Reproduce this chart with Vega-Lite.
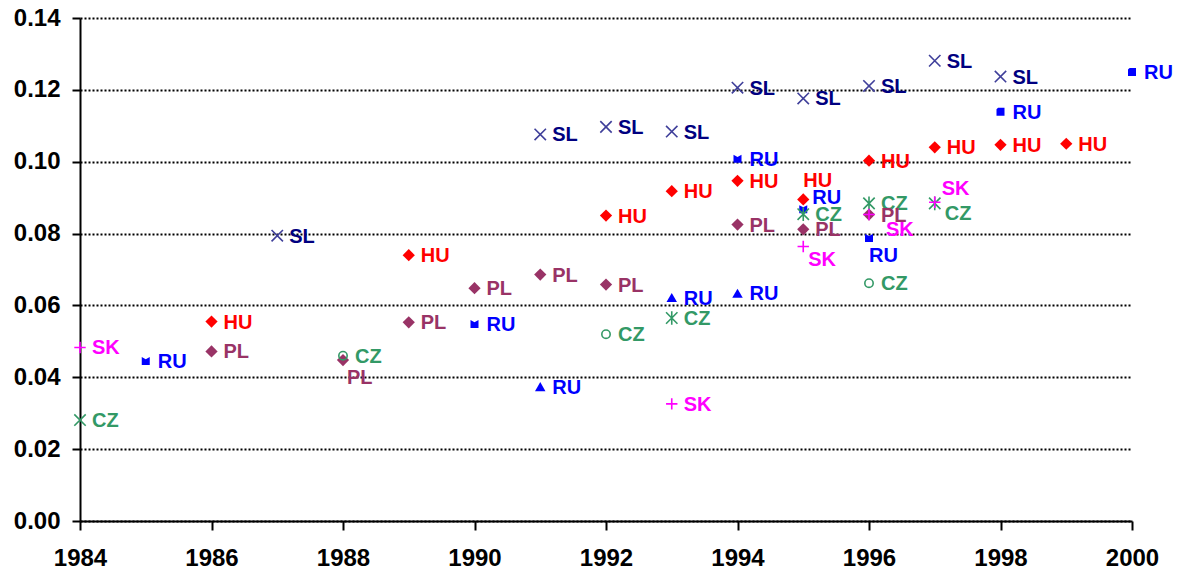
{
  "$schema": "https://vega.github.io/schema/vega-lite/v6.json",
  "width": 1052,
  "height": 503,
  "autosize": "none",
  "padding": {"left": 80, "top": 18, "right": 49, "bottom": 55},
  "background": "white",
  "config": {
    "view": {"stroke": null},
    "font": "Liberation Sans",
    "axis": {"labelFont": "Liberation Sans", "labelFontWeight": "bold", "labelColor": "black", "labelFontSize": 24}
  },
  "data": {
    "values": [
      {"year": 1984, "value": 0.0483, "country": "SK", "marker": "plus"},
      {"year": 1984, "value": 0.0281, "country": "CZ", "marker": "x"},
      {"year": 1985, "value": 0.0445, "country": "RU", "marker": "bowtie"},
      {"year": 1986, "value": 0.0555, "country": "HU", "marker": "diamond"},
      {"year": 1986, "value": 0.0472, "country": "PL", "marker": "diamond"},
      {"year": 1987, "value": 0.0794, "country": "SL", "marker": "x"},
      {"year": 1988, "value": 0.0460, "country": "CZ", "marker": "circle"},
      {"year": 1988, "value": 0.0448, "country": "PL", "marker": "diamond"},
      {"year": 1989, "value": 0.0740, "country": "HU", "marker": "diamond"},
      {"year": 1989, "value": 0.0553, "country": "PL", "marker": "diamond"},
      {"year": 1990, "value": 0.0648, "country": "PL", "marker": "diamond"},
      {"year": 1990, "value": 0.0548, "country": "RU", "marker": "bowtie"},
      {"year": 1991, "value": 0.1076, "country": "SL", "marker": "x"},
      {"year": 1991, "value": 0.0686, "country": "PL", "marker": "diamond"},
      {"year": 1991, "value": 0.0374, "country": "RU", "marker": "triangle"},
      {"year": 1992, "value": 0.1097, "country": "SL", "marker": "x"},
      {"year": 1992, "value": 0.0850, "country": "HU", "marker": "diamond"},
      {"year": 1992, "value": 0.0658, "country": "PL", "marker": "diamond"},
      {"year": 1992, "value": 0.0520, "country": "CZ", "marker": "circle"},
      {"year": 1993, "value": 0.1084, "country": "SL", "marker": "x"},
      {"year": 1993, "value": 0.0918, "country": "HU", "marker": "diamond"},
      {"year": 1993, "value": 0.0622, "country": "RU", "marker": "triangle"},
      {"year": 1993, "value": 0.0565, "country": "CZ", "marker": "asterisk"},
      {"year": 1993, "value": 0.0326, "country": "SK", "marker": "plus"},
      {"year": 1994, "value": 0.1206, "country": "SL", "marker": "x"},
      {"year": 1994, "value": 0.1008, "country": "RU", "marker": "bowtie"},
      {"year": 1994, "value": 0.0947, "country": "HU", "marker": "diamond"},
      {"year": 1994, "value": 0.0825, "country": "PL", "marker": "diamond"},
      {"year": 1994, "value": 0.0634, "country": "RU", "marker": "triangle"},
      {"year": 1995, "value": 0.1176, "country": "SL", "marker": "x"},
      {"year": 1995, "value": 0.0895, "country": "HU", "marker": "diamond"},
      {"year": 1995, "value": 0.0868, "country": "RU", "marker": "bowtie"},
      {"year": 1995, "value": 0.0854, "country": "CZ", "marker": "asterisk"},
      {"year": 1995, "value": 0.0812, "country": "PL", "marker": "diamond"},
      {"year": 1995, "value": 0.0764, "country": "SK", "marker": "plus"},
      {"year": 1996, "value": 0.1211, "country": "SL", "marker": "x"},
      {"year": 1996, "value": 0.1003, "country": "HU", "marker": "diamond"},
      {"year": 1996, "value": 0.0884, "country": "CZ", "marker": "asterisk"},
      {"year": 1996, "value": 0.0853, "country": "PL", "marker": "diamond"},
      {"year": 1996, "value": 0.0853, "country": "SK", "marker": "plus"},
      {"year": 1996, "value": 0.0788, "country": "RU", "marker": "bowtie"},
      {"year": 1996, "value": 0.0662, "country": "CZ", "marker": "circle"},
      {"year": 1997, "value": 0.1281, "country": "SL", "marker": "x"},
      {"year": 1997, "value": 0.1040, "country": "HU", "marker": "diamond"},
      {"year": 1997, "value": 0.0884, "country": "CZ", "marker": "asterisk"},
      {"year": 1997, "value": 0.0887, "country": "SK", "marker": "plus"},
      {"year": 1998, "value": 0.1237, "country": "SL", "marker": "x"},
      {"year": 1998, "value": 0.1139, "country": "RU", "marker": "square"},
      {"year": 1998, "value": 0.1047, "country": "HU", "marker": "diamond"},
      {"year": 1999, "value": 0.1050, "country": "HU", "marker": "diamond"},
      {"year": 2000, "value": 0.1250, "country": "RU", "marker": "square"}
    ]
  },
  "encoding": {
    "x": {
      "field": "year", "type": "quantitative",
      "scale": {"domain": [1984, 2000], "nice": false, "zero": false},
      "axis": {"title": null, "values": [1984,1986,1988,1990,1992,1994,1996,1998,2000], "format": "d", "grid": false, "domainColor": "black", "domainWidth": 2, "tickColor": "black", "tickWidth": 2, "tickSize": 9, "labelPadding": 16, "labelFlush": false}
    },
    "y": {
      "field": "value", "type": "quantitative",
      "scale": {"domain": [0, 0.14], "nice": false},
      "axis": {"title": null, "values": [0,0.02,0.04,0.06,0.08,0.1,0.12,0.14], "format": ".2f", "grid": true, "gridColor": "black", "gridDash": [2,2], "gridWidth": 1.8, "domainColor": "black", "domainWidth": 2, "tickColor": "black", "tickWidth": 2, "tickSize": 8, "labelPadding": 12}
    }
  },
  "resolve": {"scale": {"color": "independent"}},
  "layer": [
    {
      "encoding": {
        "color": {"field": "country", "type": "nominal", "legend": null,
          "scale": {"domain": ["SL","HU","PL","RU","CZ","SK"], "range": ["#3f3f9a","#ff0000","#993366","#0000ff","#339966","#ff00ff"]}},
        "shape": {"field": "marker", "type": "nominal", "legend": null,
          "scale": {"domain": ["diamond","square","bowtie","triangle","x","circle","asterisk","plus"],
            "range": ["diamond","M-1,-0.6L-0.6,-1L1,-1L1,1L-1,1Z","M-1,-1L0,-0.45L1,-1L1,1L-1,1Z","triangle-up","M-1,-1L1,1M-1,1L1,-1","circle","M-1,-1L1,1M-1,1L1,-1M0,-1.2L0,1.2","M-1,0L1,0M0,-1L0,1"]}}
      },
      "layer": [
        {
          "transform": [{"filter": "datum.marker=='diamond'"}],
          "mark": {"type": "point", "filled": true, "strokeWidth": 0, "opacity": 1},
          "encoding": {"size": {"value": 150}}
        },
        {
          "transform": [{"filter": "datum.marker=='triangle'"}],
          "mark": {"type": "point", "filled": true, "strokeWidth": 0, "opacity": 1},
          "encoding": {"size": {"value": 110}}
        },
        {
          "transform": [{"filter": "datum.marker=='square' || datum.marker=='bowtie'"}],
          "mark": {"type": "point", "filled": true, "strokeWidth": 0, "opacity": 1},
          "encoding": {"size": {"value": 64}}
        },
        {
          "transform": [{"filter": "indexof(['x','asterisk','plus'], datum.marker) >= 0"}],
          "mark": {"type": "point", "filled": false, "strokeWidth": 1.6, "opacity": 1},
          "encoding": {"size": {"value": 130}}
        },
        {
          "transform": [{"filter": "datum.marker=='circle'"}],
          "mark": {"type": "point", "filled": false, "strokeWidth": 1.6, "opacity": 1},
          "encoding": {"size": {"value": 70}}
        }
      ]
    },
    {
      "encoding": {
        "text": {"field": "country"},
        "color": {"field": "country", "type": "nominal", "legend": null,
          "scale": {"domain": ["SL","HU","PL","RU","CZ","SK"], "range": ["#000080","#ff0000","#993366","#0000ff","#339966","#ff00ff"]}}
      },
      "layer": [
        {
          "transform": [{"filter": "!((datum.country=='PL' && datum.year==1988) || (datum.year==1995 && indexof(['HU','RU','SK'], datum.country)>=0) || (datum.year==1996 && datum.country=='SK') || (datum.year==1996 && datum.marker=='bowtie') || (datum.year==1997 && (datum.country=='SK' || datum.country=='CZ')))"}],
          "mark": {"type": "text", "align": "left", "baseline": "middle", "dx": 12, "dy": 1, "fontSize": 20, "fontWeight": "bold", "font": "Liberation Sans"}
        },
        {
          "transform": [{"filter": "datum.country=='PL' && datum.year==1988"}],
          "mark": {"type": "text", "align": "left", "baseline": "middle", "dx": 4, "dy": 18, "fontSize": 20, "fontWeight": "bold", "font": "Liberation Sans"}
        },
        {
          "transform": [{"filter": "datum.country=='HU' && datum.year==1995"}],
          "mark": {"type": "text", "align": "left", "baseline": "middle", "dx": 0, "dy": -18, "fontSize": 20, "fontWeight": "bold", "font": "Liberation Sans"}
        },
        {
          "transform": [{"filter": "datum.country=='RU' && datum.year==1995"}],
          "mark": {"type": "text", "align": "left", "baseline": "middle", "dx": 9, "dy": -11, "fontSize": 20, "fontWeight": "bold", "font": "Liberation Sans"}
        },
        {
          "transform": [{"filter": "datum.country=='SK' && datum.year==1995"}],
          "mark": {"type": "text", "align": "left", "baseline": "middle", "dx": 5, "dy": 13, "fontSize": 20, "fontWeight": "bold", "font": "Liberation Sans"}
        },
        {
          "transform": [{"filter": "datum.country=='SK' && datum.year==1996"}],
          "mark": {"type": "text", "align": "left", "baseline": "middle", "dx": 17, "dy": 15, "fontSize": 20, "fontWeight": "bold", "font": "Liberation Sans"}
        },
        {
          "transform": [{"filter": "datum.marker=='bowtie' && datum.year==1996"}],
          "mark": {"type": "text", "align": "left", "baseline": "middle", "dx": 0, "dy": 18, "fontSize": 20, "fontWeight": "bold", "font": "Liberation Sans"}
        },
        {
          "transform": [{"filter": "datum.country=='SK' && datum.year==1997"}],
          "mark": {"type": "text", "align": "left", "baseline": "middle", "dx": 7, "dy": -13, "fontSize": 20, "fontWeight": "bold", "font": "Liberation Sans"}
        },
        {
          "transform": [{"filter": "datum.country=='CZ' && datum.year==1997"}],
          "mark": {"type": "text", "align": "left", "baseline": "middle", "dx": 10, "dy": 11, "fontSize": 20, "fontWeight": "bold", "font": "Liberation Sans"}
        }
      ]
    }
  ]
}
